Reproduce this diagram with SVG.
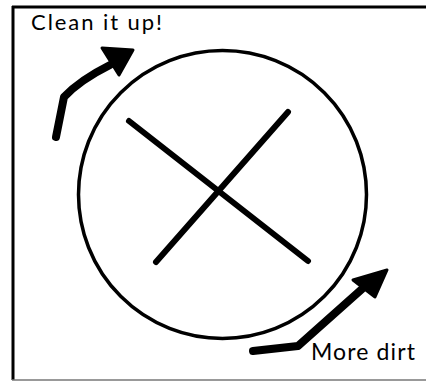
<svg xmlns="http://www.w3.org/2000/svg" width="426" height="381" viewBox="0 0 426 381">
<style>
.lbl{font-family:"Lato","Liberation Sans",sans-serif;fill:#000}
.arr{fill:none;stroke:#000;stroke-width:8;stroke-linecap:round;stroke-linejoin:round}
.head{fill:#000;stroke:#000;stroke-width:3;stroke-linejoin:round}
.xl{stroke:#000;stroke-width:6;stroke-linecap:round}
</style>
<rect width="426" height="381" fill="#fff"/>
<g id="frame">
<line x1="12" y1="7" x2="426" y2="7" stroke="#000" stroke-width="3"/>
<line x1="13" y1="6" x2="13" y2="380" stroke="#000" stroke-width="3"/>
<line x1="12" y1="380" x2="426" y2="380" stroke="#777" stroke-width="1.5"/>
</g>
<g id="circle">
<circle cx="222.5" cy="194.5" r="144" fill="none" stroke="#000" stroke-width="3.5"/>
</g>
<g id="cross">
<line class="xl" x1="129" y1="121" x2="308" y2="261"/>
<line class="xl" x1="288" y1="112" x2="156" y2="262"/>
</g>
<g id="connectors">
<path class="arr" d="M56,137 L64,97 Q80,80 110,65"/>
<polygon class="head" points="102,48 133,50 119,75"/>
<path class="arr" d="M253,351 L298,346 L362,289"/>
<polygon class="head" points="353,280 387,270 375,297"/>
</g>
<g id="label-top">
<text class="lbl" x="31" y="30" font-size="22" textLength="131" lengthAdjust="spacing">Clean it up!</text>
</g>
<g id="label-bottom">
<text class="lbl" x="311" y="360" font-size="23" textLength="104" lengthAdjust="spacing">More dirt</text>
</g>
</svg>
